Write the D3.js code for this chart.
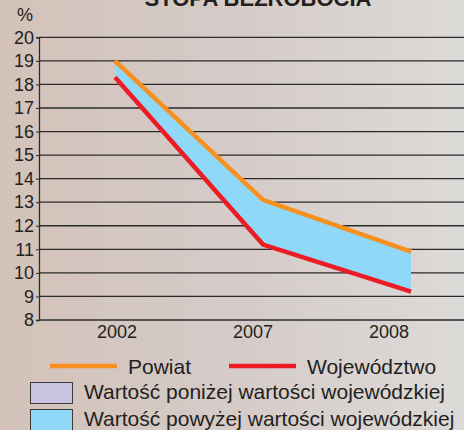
<!DOCTYPE html>
<html lang="pl">
<head>
<meta charset="utf-8">
<title>Stopa bezrobocia</title>
<script src="https://d3js.org/d3.v7.min.js"></script>
<style>
  html, body { margin: 0; padding: 0; overflow: hidden; }
  svg text { font-family: "Liberation Sans", Arial, sans-serif; fill: #231f20; }
</style>
</head>
<body>
<div id="chart"></div>
<script>
// data
var years = ["2002", "2007", "2008"];
var powiat = [19.0, 13.1, 10.9];
var wojewodztwo = [18.3, 11.2, 9.2];
var yTicks = [8, 9, 10, 11, 12, 13, 14, 15, 16, 17, 18, 19, 20];

var W = 464, H = 430;
var svg = d3.select("#chart").append("svg")
  .attr("width", W)
  .attr("height", H);

// background gradient
var defs = svg.append("defs");
var grad = defs.append("linearGradient").attr("id", "bg")
  .attr("x1", "0%").attr("x2", "100%").attr("y1", "0%").attr("y2", "0%");
grad.append("stop").attr("offset", "0%").attr("stop-color", "#d3c2b9");
grad.append("stop").attr("offset", "50%").attr("stop-color", "#d5cbc8");
grad.append("stop").attr("offset", "100%").attr("stop-color", "#dcdad8");
svg.append("rect").attr("width", W).attr("height", H).attr("fill", "url(#bg)");

var left = 39;

var y = d3.scaleLinear().domain([8, 20]).range([320, 37.3]);
// point positions of the lines
var x = d3.scalePoint().domain(years).range([115, 411]);
// tick label positions (labels are not centred under the points in the original)
var xLab = d3.scalePoint().domain(years).range([117, 389]);

// horizontal grid lines
svg.append("g").selectAll("line")
  .data(yTicks)
  .enter().append("line")
    .attr("x1", left).attr("x2", W)
    .attr("y1", function(d) { return y(d); })
    .attr("y2", function(d) { return y(d); })
    .attr("stroke", function(d) { return d == 8 ? "#555" : "#2b2b2b"; })
    .attr("stroke-width", function(d) { return d == 8 ? 2 : 1.3; });

// y axis
var yAxis = svg.append("g")
  .attr("transform", "translate(" + left + ",0)")
  .call(d3.axisLeft(y).tickValues(yTicks).tickSize(3).tickPadding(2));
yAxis.select(".domain").attr("stroke", "#2b2b2b").attr("stroke-width", 1.3);
yAxis.selectAll(".tick line").attr("stroke", "#2b2b2b");
yAxis.selectAll(".tick text")
  .style("font-size", "18px")
  .attr("fill", "#231f20")
  .style("font-family", "Liberation Sans, Arial, sans-serif");

// x labels
svg.append("g").selectAll("text")
  .data(years)
  .enter().append("text")
    .attr("x", function(d) { return xLab(d); })
    .attr("y", 338)
    .attr("text-anchor", "middle")
    .style("font-size", "18px")
    .text(function(d) { return d; });

// area between lines
var rows = years.map(function(yr, i) {
  return { year: yr, p: powiat[i], w: wojewodztwo[i] };
});
var area = d3.area()
  .x(function(d) { return x(d.year); })
  .y0(function(d) { return y(d.w); })
  .y1(function(d) { return y(d.p); });
svg.append("path")
  .datum(rows)
  .attr("d", area)
  .attr("fill", "#8fd8f7");

var line = d3.line()
  .x(function(d) { return x(d.year); })
  .y(function(d) { return y(d.v); });

svg.append("path")
  .datum(rows.map(function(d) { return { year: d.year, v: d.w }; }))
  .attr("d", line)
  .attr("fill", "none")
  .attr("stroke", "#ed1c24")
  .attr("stroke-width", 4.5);

svg.append("path")
  .datum(rows.map(function(d) { return { year: d.year, v: d.p }; }))
  .attr("d", line)
  .attr("fill", "none")
  .attr("stroke", "#f7901e")
  .attr("stroke-width", 4.5);

// title (cut off at the top, as in the original)
svg.append("text")
  .attr("x", 258).attr("y", 6)
  .attr("text-anchor", "middle")
  .style("font-size", "22px")
  .style("font-weight", "bold")
  .text("STOPA BEZROBOCIA");

svg.append("text")
  .attr("x", 25).attr("y", 21)
  .attr("text-anchor", "middle")
  .style("font-size", "18px")
  .text("%");

// legend
var lineLegend = [
  { name: "Powiat", color: "#f7901e", x: 50 },
  { name: "Województwo", color: "#ed1c24", x: 229 }
];
var lg = svg.append("g").selectAll("g")
  .data(lineLegend)
  .enter().append("g")
    .attr("transform", function(d) { return "translate(" + d.x + ",366)"; });
lg.append("line")
  .attr("x1", 0).attr("x2", 67)
  .attr("stroke", function(d) { return d.color; })
  .attr("stroke-width", 4.5);
lg.append("text")
  .attr("x", 78).attr("y", 7.5)
  .style("font-size", "21px")
  .text(function(d) { return d.name; });

var boxLegend = [
  { name: "Wartość poniżej wartości wojewódzkiej", color: "#c8c4e1", y: 382 },
  { name: "Wartość powyżej wartości wojewódzkiej", color: "#8fd8f7", y: 409 }
];
var bg = svg.append("g").selectAll("g")
  .data(boxLegend)
  .enter().append("g")
    .attr("transform", function(d) { return "translate(30," + d.y + ")"; });
bg.append("rect")
  .attr("x", 0.5).attr("y", 0.5)
  .attr("width", 42).attr("height", 21)
  .attr("fill", function(d) { return d.color; })
  .attr("stroke", "#3a3a3a")
  .attr("stroke-width", 1);
bg.append("text")
  .attr("x", 54).attr("y", 16.5)
  .style("font-size", "21px")
  .text(function(d) { return d.name; });
</script>
</body>
</html>
